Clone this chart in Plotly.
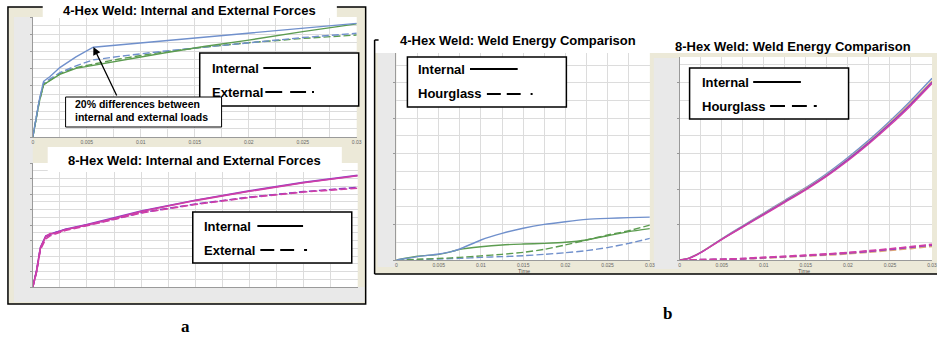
import plotly.graph_objects as go

W, H = 942, 338

# ---------------- data ----------------
T_TICKS = [0, 0.005, 0.01, 0.015, 0.02, 0.025, 0.03]
T_TICK_TEXT = ["0", "0.005", "0.01", "0.015", "0.02", "0.025", "0.03"]

# 4-Hex weld: internal / external forces (normalised units)
t_4hf = [0, 0.00025, 0.0006, 0.001, 0.0016, 0.0025, 0.004, 0.0056, 0.008, 0.012, 0.016, 0.02, 0.025, 0.03]
f4_int_blue = [0, 1.9, 4.3, 6.5, 7.05, 8.1, 9.35, 10.47, 10.75, 11.2, 11.66, 12.12, 12.69, 13.26]
f4_ext_blue = [0, 1.9, 4.3, 6.3, 6.8, 7.5, 8.3, 9.0, 9.4, 10.0, 10.5, 11.0, 11.6, 12.1]
f4_int_green = [0, 1.8, 4.1, 6.1, 6.6, 7.3, 8.0, 8.35, 8.95, 9.77, 10.58, 11.3, 12.3, 13.2]
f4_ext_green = [0, 1.8, 4.1, 6.1, 6.6, 7.4, 8.1, 8.5, 9.1, 9.9, 10.5, 11.0, 11.5, 11.9]

# 8-Hex weld: internal / external forces
t_8hf = [0, 0.00035, 0.0007, 0.0012, 0.0016, 0.002, 0.003, 0.005, 0.0075, 0.01, 0.015, 0.02, 0.025, 0.03]
f8_int_purple = [0, 2.1, 5.1, 6.6, 6.8, 7.0, 7.45, 8.05, 8.9, 9.8, 11.2, 12.4, 13.5, 14.4]
f8_int_magenta = [0, 2.0, 5.0, 6.5, 6.9, 6.9, 7.4, 8.0, 8.85, 9.75, 11.15, 12.35, 13.45, 14.35]
f8_ext_magenta = [0, 2.0, 4.8, 6.2, 6.6, 6.8, 7.3, 7.9, 8.7, 9.55, 10.65, 11.55, 12.25, 12.75]
f8_ext_purple = [0, 2.1, 5.0, 6.5, 6.7, 7.0, 7.4, 8.0, 8.75, 9.6, 10.7, 11.6, 12.3, 12.85]

# 4-Hex weld: internal / hourglass energy
t_4he = [0, 0.0025, 0.005, 0.0065, 0.0075, 0.01, 0.0125, 0.015, 0.0175, 0.02, 0.0225, 0.025, 0.0275, 0.03]
e4_int_blue = [0, 0.19, 0.34, 0.47, 0.62, 1.13, 1.5, 1.79, 2.01, 2.16, 2.29, 2.35, 2.39, 2.42]
e4_int_green = [0, 0.21, 0.32, 0.47, 0.6, 0.75, 0.85, 0.9, 0.94, 1.0, 1.13, 1.37, 1.6, 1.77]
e4_hg_green = [0, 0.04, 0.09, 0.12, 0.15, 0.23, 0.32, 0.43, 0.6, 0.85, 1.13, 1.41, 1.65, 1.97]
e4_hg_blue = [0, 0.02, 0.06, 0.08, 0.09, 0.15, 0.19, 0.24, 0.32, 0.41, 0.53, 0.7, 0.94, 1.22]

# 8-Hex weld: internal / hourglass energy
t_8he = [0, 0.001, 0.002, 0.003, 0.005, 0.0075, 0.01, 0.0125, 0.015, 0.0175, 0.02, 0.0225, 0.025, 0.0275, 0.03]
e8_int_blue = [0, 0.09, 0.3, 0.58, 1.2, 1.93, 2.65, 3.37, 4.09, 4.88, 5.78, 6.76, 7.84, 9.0, 10.25]
e8_int_tan = [0, 0.09, 0.3, 0.57, 1.18, 1.9, 2.62, 3.33, 4.04, 4.81, 5.7, 6.67, 7.74, 8.88, 10.1]
e8_int_purple = [0, 0.08, 0.29, 0.56, 1.17, 1.88, 2.59, 3.3, 4.0, 4.77, 5.66, 6.62, 7.68, 8.8, 10.02]
e8_int_magenta = [0, 0.08, 0.28, 0.55, 1.15, 1.85, 2.55, 3.25, 3.96, 4.73, 5.6, 6.56, 7.6, 8.72, 9.95]
e8_hg_magenta = [0, 0.005, 0.01, 0.02, 0.04, 0.08, 0.15, 0.21, 0.27, 0.34, 0.42, 0.52, 0.63, 0.75, 0.88]
e8_hg_purple = [0, 0.005, 0.01, 0.02, 0.04, 0.07, 0.13, 0.19, 0.25, 0.32, 0.4, 0.49, 0.6, 0.72, 0.84]
e8_hg_tan = [0, 0.004, 0.008, 0.015, 0.03, 0.06, 0.11, 0.16, 0.22, 0.28, 0.35, 0.44, 0.54, 0.65, 0.77]

# ---------------- styling ----------------
BLUE = "#7090cc"
GREEN = "#5c9c50"
MAGENTA = "#d03fa6"
PURPLE = "#8a3cc6"
TAN = "#dda878"
BEIGE = "#ece9d8"
PANEL_GRAY = "#e9e9e9"
GRID = "#dcdcdc"
SANS = "Liberation Sans, Arial, sans-serif"
SERIF = "Liberation Serif, Times New Roman, serif"


def fx(px):
    return px / W


def fy(py):
    return 1 - py / H


fig = go.Figure()

# subplot boxes in pixels: (left, top, right, bottom, y-top, show x labels)
boxes = {
    1: (32, 17, 358, 137, 14.0, True),
    2: (32, 163, 359, 287, 16.0, False),
    3: (398, 53, 653, 260, 11.68, True),
    4: (683, 57, 937, 260, 11.45, True),
}

layout_axes = {}
for k, (l, t, r, b, ytop, xlabels) in boxes.items():
    sx = "" if k == 1 else str(k)
    layout_axes["xaxis" + sx] = dict(
        domain=[fx(l), fx(r)], anchor="y" + sx, range=[0, 0.03],
        tickmode="array", tickvals=T_TICKS, ticktext=T_TICK_TEXT,
        showticklabels=xlabels,
        tickfont=dict(family=SANS, size=5, color="#666"),
        ticks="",
        showgrid=True, gridcolor=GRID, gridwidth=1,
        minor=dict(dtick=0.0025, tick0=0, showgrid=True, gridcolor=GRID, gridwidth=1),
        showline=True, linecolor="#9a9a9a", linewidth=1, mirror=False,
        zeroline=False, fixedrange=True,
    )
    layout_axes["yaxis" + sx] = dict(
        domain=[fy(b), fy(t)], anchor="x" + sx, range=[0, ytop],
        tick0=0, dtick=2, showticklabels=False,
        ticks="outside", ticklen=2, tickcolor="#999",
        showgrid=True, gridcolor=GRID, gridwidth=1,
        minor=dict(dtick=1, tick0=0, showgrid=True, gridcolor=GRID, gridwidth=1),
        showline=True, linecolor="#9a9a9a", linewidth=1,
        zeroline=False, fixedrange=True,
    )


def add_line(k, t, y, color, dash="solid", width=1.4, smooth=False):
    sx = "" if k == 1 else str(k)
    line = dict(color=color, width=width, dash=dash)
    if smooth:
        line.update(shape="spline", smoothing=0.6)
    fig.add_trace(go.Scatter(
        x=t, y=y, mode="lines", xaxis="x" + sx, yaxis="y" + sx,
        line=line, showlegend=False, hoverinfo="skip",
    ))


DASH = "7px,3px"
# 4-Hex forces
add_line(1, t_4hf, f4_ext_green, GREEN, DASH)
add_line(1, t_4hf, f4_ext_blue, BLUE, DASH)
add_line(1, t_4hf, f4_int_green, GREEN)
add_line(1, t_4hf, f4_int_blue, BLUE)
# 8-Hex forces
add_line(2, t_8hf, f8_ext_purple, PURPLE, DASH, 1.6)
add_line(2, t_8hf, f8_ext_magenta, MAGENTA, DASH, 1.6)
add_line(2, t_8hf, f8_int_purple, PURPLE, "solid", 1.6)
add_line(2, t_8hf, f8_int_magenta, MAGENTA, "solid", 1.6)
# 4-Hex energy
add_line(3, t_4he, e4_hg_blue, BLUE, DASH, smooth=True)
add_line(3, t_4he, e4_hg_green, GREEN, DASH, smooth=True)
add_line(3, t_4he, e4_int_green, GREEN, smooth=True)
add_line(3, t_4he, e4_int_blue, BLUE, smooth=True)
# 8-Hex energy
add_line(4, t_8he, e8_hg_tan, TAN, DASH, 1.8, True)
add_line(4, t_8he, e8_hg_purple, PURPLE, DASH, 1.8, True)
add_line(4, t_8he, e8_hg_magenta, MAGENTA, DASH, 1.8, True)
add_line(4, t_8he, e8_int_blue, BLUE, smooth=True)
add_line(4, t_8he, e8_int_tan, TAN, smooth=True)
add_line(4, t_8he, e8_int_purple, PURPLE, smooth=True)
add_line(4, t_8he, e8_int_magenta, MAGENTA, smooth=True)

shapes = []


def rect(x0, y0, x1, y1, fill=None, line=None, lw=0, layer="below"):
    shapes.append(dict(
        type="rect", xref="paper", yref="paper",
        x0=fx(x0), x1=fx(x1), y0=fy(y1), y1=fy(y0),
        fillcolor=fill if fill else "rgba(0,0,0,0)",
        line=dict(color=line if line else "rgba(0,0,0,0)", width=lw),
        layer=layer,
    ))


def seg(x0, y0, x1, y1, color="black", lw=1, layer="above"):
    shapes.append(dict(
        type="line", xref="paper", yref="paper",
        x0=fx(x0), x1=fx(x1), y0=fy(y0), y1=fy(y1),
        line=dict(color=color, width=lw), layer=layer,
    ))


# --- panel a background ---
rect(7, 7, 367, 304, BEIGE)
rect(13, 17, 32, 302, PANEL_GRAY)
rect(13, 287, 366, 302, PANEL_GRAY)
rect(32, 17, 358, 137, "white")
rect(32, 163, 359, 287, "white")
rect(7, 7, 367, 304, None, "black", 1.5)

# --- panel b background ---
rect(376, 53, 942, 274, BEIGE)
rect(379, 53, 398, 267, PANEL_GRAY)
rect(657, 58, 683, 269, PANEL_GRAY)
rect(398, 53, 653, 260, "white")
rect(683, 57, 937, 260, "white")
seg(376, 40, 376, 274, "black", 1.5, "below")
seg(376, 274, 942, 274, "black", 1.5, "below")
seg(376, 40, 380, 40, "black", 1.5, "below")

# --- title boxes on panel a ---
rect(42, 0, 338, 18, "white", layer="above")
rect(47, 147, 343, 172, "white", layer="above")

# --- legend boxes ---
legend_boxes = [
    (200, 53, 360, 106),
    (193, 212, 353, 263),
    (409, 57, 569, 107),
    (693, 68, 853, 119),
]
for (x0, y0, x1, y1) in legend_boxes:
    rect(x0, y0, x1, y1, "white", "black", 1.5, layer="above")

# solid key lines
for (x0, x1, y) in [(264, 312, 68), (258, 304, 226), (472, 520, 69), (757, 805, 82)]:
    seg(x0, y, x1, y, "black", 2)

# dashed key lines, drawn as "— — -"
dash_keys = [
    (92, [(266, 283), (291, 307), (313, 315)]),
    (250, [(261, 275), (281, 295), (305, 308)]),
    (94, [(489, 503), (509, 523), (533, 535)]),
    (106, [(774, 789), (796, 811), (818, 821)]),
]
for y, parts in dash_keys:
    for (x0, x1) in parts:
        seg(x0, y, x1, y, "black", 2)

# callout box
rect(65, 97, 222, 127, "white", "black", 1, layer="above")

annotations = []


def text(px, py, s, size, xanchor="center", family=SANS, bold=True, color="black"):
    annotations.append(dict(
        xref="paper", yref="paper", x=fx(px), y=fy(py),
        text="<b>%s</b>" % s if bold else s, showarrow=False,
        xanchor=xanchor, yanchor="middle",
        font=dict(family=family, size=size, color=color),
    ))


text(190, 10, "4-Hex Weld: Internal and External Forces", 13)
text(195, 160, "8-Hex Weld: Internal and External Forces", 13)
text(520, 41, "4-Hex Weld: Weld Energy Comparison", 13)
text(797, 46, "8-Hex Weld: Weld Energy Comparison", 13)

text(210, 68, "Internal", 13, "left")
text(210, 92, "External", 13, "left")
text(202, 226, "Internal", 13, "left")
text(202, 250, "External", 13, "left")
text(418, 69, "Internal", 13, "left")
text(418, 94, "Hourglass", 13, "left")
text(703, 82, "Internal", 13, "left")
text(703, 106, "Hourglass", 13, "left")

text(72, 104, "20% differences between", 10.5, "left")
text(72, 117, "internal and external loads", 10.5, "left")

text(526, 271, "Time", 5.5, bold=False, color="#555")
text(808, 271, "Time", 5.5, bold=False, color="#555")

text(186, 326, "a", 17, family=SERIF)
text(671, 313, "b", 17, family=SERIF)

# arrow from callout to the kink of the internal force curve
annotations.append(dict(
    xref="paper", yref="paper", x=fx(93), y=fy(47), text="",
    showarrow=True, axref="pixel", ayref="pixel", ax=24, ay=50,
    arrowhead=2, arrowsize=1.2, arrowwidth=1.3, arrowcolor="black", standoff=0,
))

fig.update_layout(
    width=W, height=H, autosize=False,
    margin=dict(l=0, r=0, t=0, b=0, pad=0),
    paper_bgcolor="white", plot_bgcolor="rgba(0,0,0,0)",
    shapes=shapes, annotations=annotations, showlegend=False,
    **layout_axes,
)

fig.write_html("out.html", config={"displayModeBar": False})
